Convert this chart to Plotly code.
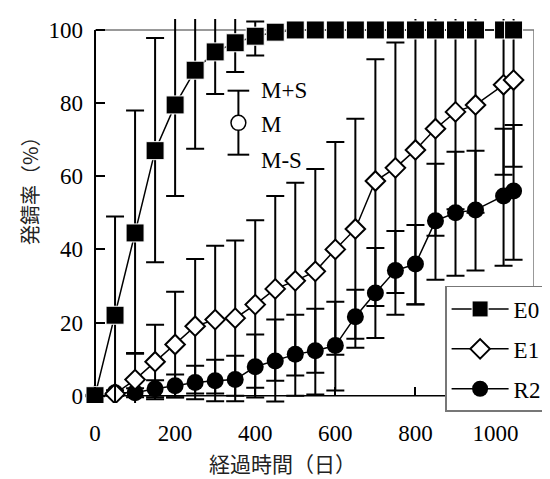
import plotly.graph_objects as go

# ---------------- data ----------------
days = [0, 50, 100, 150, 200, 250, 300, 350, 400, 450, 500, 550, 600, 650,
        700, 750, 800, 850, 900, 950, 1020, 1045]

e0_mean = [0, 22, 44.5, 67, 79.5, 89, 94, 96.5, 98.3, 99.4, 100, 100, 100, 100,
           100, 100, 100, 100, 100, 100, 100, 100]
e0_upper = [0, 49, 78, 97.8, 106, 110, 106, 104.5, 102.3, 99.4, 100, 100, 100, 100,
            100, 100, 100, 100, 100, 100, 100, 100]
e0_lower = [0, -5, 11.5, 36.5, 54.6, 67.5, 82.5, 88.5, 93, 99.4, 100, 100, 100, 100,
            100, 100, 100, 100, 100, 100, 100, 100]

e1_mean = [0, 0.5, 4.4, 9.3, 14, 19, 20.8, 21.2, 24.9, 29.2, 31.4, 34, 40, 45.6,
           58.7, 62.3, 67.2, 73, 77.6, 79.5, 85, 86.3]
e1_upper = [0, 0.5, 11.7, 19.4, 28.4, 37.4, 41, 42.4, 48, 54.6, 58.2, 62, 69.4, 75.7,
            92, 96.6, 110, 104, 104, 107, 110, 110]
e1_lower = [0, 0.5, -3, -1, -0.4, 0.6, 0.6, 0, 2.2, 4.1, 5.5, 6.3, 11.2, 15.6,
            24.5, 28.1, 25, 43.7, 51, 50, 60.4, 62.6]

r2_mean = [0, 0.8, 0.8, 1.9, 2.7, 3.6, 4.1, 4.4, 7.9, 9.5, 11.3, 12.3, 13.7, 21.6,
           28.1, 34.2, 36, 47.8, 50, 50.8, 54.6, 56]
r2_upper = [0, 1.5, 2, 4.2, 5.8, 8.2, 9.8, 10.9, 16.7, 20.8, 22.1, 23.8, 25.7, 29,
            40.4, 45, 46.7, 63.4, 66.7, 67, 73, 74]
r2_lower = [0, 0, -0.4, -0.4, -0.5, -1, -1.5, -1.5, -0.5, -1.6, 0, 0.3, 1.4, 13.1,
            15.8, 22.1, 24.9, 31.7, 32.8, 34.2, 35.5, 37.2]

x_ticks = [0, 200, 400, 600, 800, 1000]
y_ticks = [0, 20, 40, 60, 80, 100]

key_labels = ["M+S", "M", "M-S"]

SERIF = "Liberation Serif, Times New Roman, serif"
CJK = "Noto Sans CJK JP"

X_MIN, X_MAX = -25, 1096
Y_MIN, Y_MAX = -2, 103

fig = go.Figure()

series = [
    # name, mean, upper, lower, symbol, size, fill, line width, rank
    ("R2", r2_mean, r2_upper, r2_lower, "circle", 17, "black", 0, 3),
    ("E1", e1_mean, e1_upper, e1_lower, "diamond", 15, "white", 2, 2),
    ("E0", e0_mean, e0_upper, e0_lower, "square", 18, "black", 1, 1),
]
for name, m, up, lo, sym, size, fill, lw, rank in series:
    fig.add_trace(go.Scatter(
        x=days, y=m, name=name, mode="lines+markers",
        line=dict(color="black", width=1.5),
        marker=dict(symbol=sym, size=size, color=fill,
                    line=dict(color="white" if sym == "square" else "black", width=lw)),
        error_y=dict(type="data", symmetric=False,
                     array=[u - v for u, v in zip(up, m)],
                     arrayminus=[v - l for v, l in zip(m, lo)],
                     color="black", thickness=2, width=9),
        legendrank=rank, legendgroup=name,
    ))

# frame
shapes = [
    dict(type="line", x0=0, x1=X_MAX, y0=100, y1=100, line=dict(color="#777777", width=1.5), layer="below"),
    dict(type="line", x0=X_MAX, x1=X_MAX, y0=0, y1=100, line=dict(color="#777777", width=1.5), layer="below"),
    dict(type="line", x0=0, x1=0, y0=0, y1=100, line=dict(color="black", width=2), layer="below"),
    dict(type="line", x0=0, x1=X_MAX, y0=0, y1=0, line=dict(color="black", width=1.5), layer="below"),
]
# key glyph (M+S / M / M-S)
kx, km, kt, kb = 358, 74.6, 83.4, 65.9
rx, ry = 18.5, 2.05
shapes += [
    dict(type="line", x0=kx, x1=kx, y0=kt, y1=km + ry, line=dict(color="black", width=2)),
    dict(type="line", x0=kx, x1=kx, y0=km - ry, y1=kb, line=dict(color="black", width=2)),
    dict(type="line", x0=kx - 27, x1=kx + 27, y0=kt, y1=kt, line=dict(color="black", width=2)),
    dict(type="line", x0=kx - 27, x1=kx + 27, y0=kb, y1=kb, line=dict(color="black", width=2)),
    dict(type="circle", x0=kx - rx, x1=kx + rx, y0=km - ry, y1=km + ry,
         line=dict(color="black", width=1.5), fillcolor="white"),
]

annotations = [
    dict(x=410, y=83.4, text=key_labels[0], xanchor="left", yanchor="middle", showarrow=False,
         font=dict(family=SERIF, size=23, color="black")),
    dict(x=410, y=74.1, text=key_labels[1], xanchor="left", yanchor="middle", showarrow=False,
         font=dict(family=SERIF, size=23, color="black")),
    dict(x=410, y=64.3, text=key_labels[2], xanchor="left", yanchor="middle", showarrow=False,
         font=dict(family=SERIF, size=23, color="black")),
    dict(xref="paper", yref="paper", x=0.4396, y=-0.155, text="経過時間（日）",
         xanchor="center", yanchor="middle", showarrow=False,
         font=dict(family=CJK, size=21, color="#222222")),
    dict(xref="paper", yref="paper", x=-0.125, y=0.565, text="発錆率（%）", textangle=-90,
         xanchor="center", yanchor="middle", showarrow=False,
         font=dict(family=CJK, size=20, color="#222222")),
]

fig.update_layout(
    width=550, height=479,
    margin=dict(l=77, r=18, t=11, b=84),
    paper_bgcolor="white", plot_bgcolor="white",
    font=dict(family=SERIF, size=23, color="black"),
    shapes=shapes, annotations=annotations,
    showlegend=True,
    legend=dict(x=0.802, y=0.3047, xanchor="left", yanchor="top",
                bgcolor="white", bordercolor="#777777", borderwidth=1.5,
                font=dict(family=SERIF, size=23, color="black"),
                itemwidth=57, tracegroupgap=7, traceorder="grouped"),
    xaxis=dict(range=[X_MIN, X_MAX], tickvals=x_ticks, ticks="inside", ticklen=9,
               tickwidth=1.5, tickcolor="black", showgrid=False, zeroline=False,
               showline=False, anchor="free", position=(0 - Y_MIN) / (Y_MAX - Y_MIN),
               ticklabelstandoff=21, tickfont=dict(family=SERIF, size=23, color="black")),
    yaxis=dict(range=[Y_MIN, Y_MAX], tickvals=y_ticks, ticks="inside", ticklen=9,
               tickwidth=1.5, tickcolor="black", showgrid=False, zeroline=False,
               showline=False, anchor="free", position=(0 - X_MIN) / (X_MAX - X_MIN),
               ticklabelstandoff=12, tickfont=dict(family=SERIF, size=23, color="black")),
)

fig.write_html("out.html")
